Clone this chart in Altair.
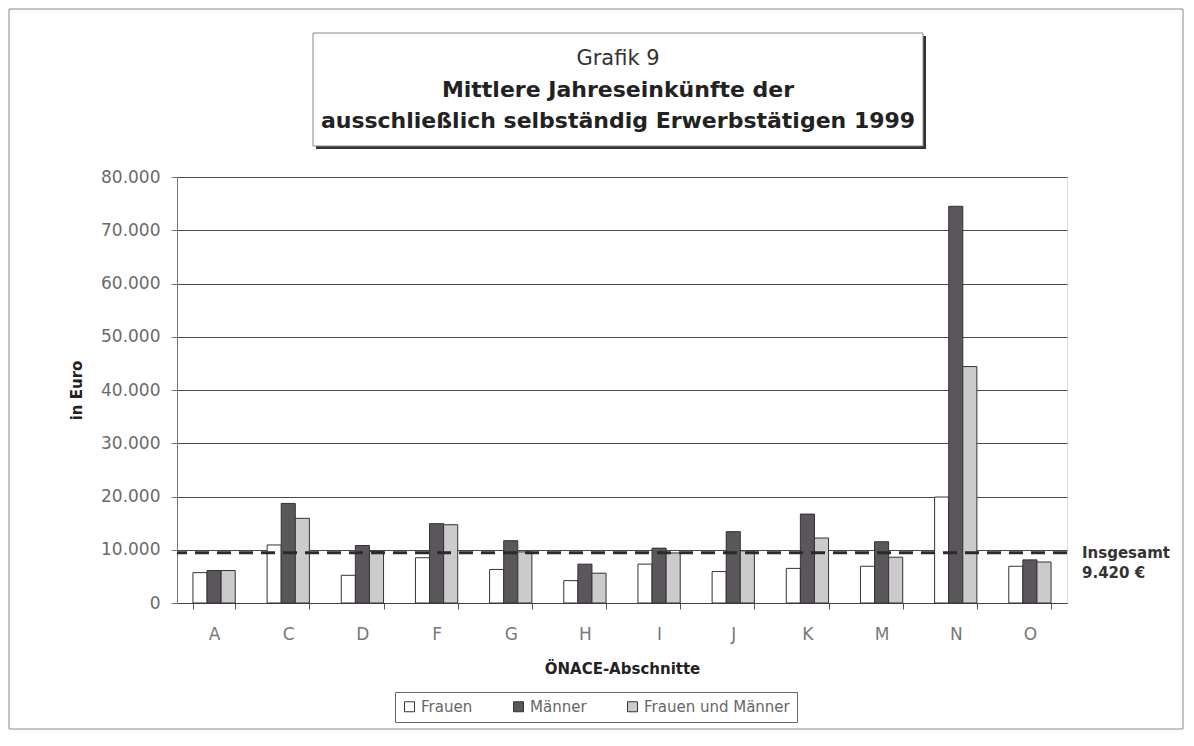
import altair as alt
import pandas as pd

# ---------------- data ----------------
categories = ["A", "C", "D", "F", "G", "H", "I", "J", "K", "M", "N", "O"]
frauen = [5700, 10900, 5200, 8500, 6300, 4200, 7300, 5900, 6500, 6900, 19900, 6900]
maenner = [6100, 18700, 10800, 14900, 11700, 7300, 10300, 13400, 16700, 11500, 74500, 8100]
beide = [6100, 15900, 9700, 14700, 9600, 5600, 9400, 9800, 12200, 8600, 44400, 7700]
series = ["Frauen", "Männer", "Frauen und Männer"]
series_colors = ["#ffffff", "#5b565b", "#cbcbcb"]
insgesamt = [9420]
insgesamt_label = ["Insgesamt", "9.420 €"]
y_ticks = [0, 10000, 20000, 30000, 40000, 50000, 60000, 70000, 80000]
title_lines = ["Grafik 9",
               "Mittlere Jahreseinkünfte der",
               "ausschließlich selbständig Erwerbstätigen 1999"]

rows = []
for i, c in enumerate(categories):
    rows.append({"Abschnitt": c, "Gruppe": series[0], "Wert": frauen[i]})
    rows.append({"Abschnitt": c, "Gruppe": series[1], "Wert": maenner[i]})
    rows.append({"Abschnitt": c, "Gruppe": series[2], "Wert": beide[i]})
df = pd.DataFrame(rows)

FONT = "DejaVu Sans"
W, H = 890, 426
one = pd.DataFrame({"a": [0]})

# ---------------- decorations (frame + title box) ----------------
outer = alt.Chart(one).mark_rect(filled=False, stroke="#8a8a8a", strokeWidth=1).encode(
    x=alt.value(-168), x2=alt.value(1006), y=alt.value(-168), y2=alt.value(552)
)
shadow = alt.Chart(one).mark_rect(fill="#333333").encode(
    x=alt.value(139), x2=alt.value(749), y=alt.value(-141), y2=alt.value(-28)
)
box = alt.Chart(one).mark_rect(fill="white", stroke="#8a8a8a", strokeWidth=1).encode(
    x=alt.value(136), x2=alt.value(746), y=alt.value(-144), y2=alt.value(-31)
)
t1 = alt.Chart(one).mark_text(text=title_lines[0], font=FONT, fontSize=21, color="#333333",
                              align="center", baseline="alphabetic").encode(
    x=alt.value(441), y=alt.value(-112))
t2 = alt.Chart(one).mark_text(text=title_lines[1], font=FONT, fontSize=22, fontWeight="bold",
                              color="#222222", align="center", baseline="alphabetic").encode(
    x=alt.value(441), y=alt.value(-80))
t3 = alt.Chart(one).mark_text(text=title_lines[2], font=FONT, fontSize=22, fontWeight="bold",
                              color="#222222", align="center", baseline="alphabetic").encode(
    x=alt.value(441), y=alt.value(-49))

# ---------------- bars ----------------
y_enc = alt.Y("Wert:Q", scale=alt.Scale(domain=[0, 80000], nice=False),
              axis=alt.Axis(values=y_ticks, title="in Euro",
                            labelExpr="replace(format(datum.value, ','), ',', '.')",
                            labelFont=FONT, labelFontSize=17, labelColor="#6a6a6a",
                            labelPadding=11, tickSize=6, tickColor="#777777",
                            domainColor="#777777", titleFont=FONT, titleFontSize=15,
                            titleFontWeight="bold", titleColor="#222222", titlePadding=16,
                            grid=True, gridColor="#4a4a4a", gridWidth=1))

bars = alt.Chart(df).mark_bar(stroke="#333333", strokeWidth=1).encode(
    x=alt.X("Abschnitt:N", sort=categories,
            scale=alt.Scale(paddingInner=0.43, paddingOuter=0.215),
            axis=alt.Axis(title="ÖNACE-Abschnitte", labelAngle=0, tickBand="extent",
                          labelFont=FONT, labelFontSize=17, labelColor="#777777",
                          labelPadding=17, tickSize=6, tickColor="#555555",
                          domainColor="#444444", titleFont=FONT, titleFontSize=15,
                          titleFontWeight="bold", titleColor="#222222", titlePadding=19,
                          grid=False)),
    xOffset=alt.XOffset("Gruppe:N", sort=series),
    y=y_enc,
    color=alt.Color("Gruppe:N", sort=series,
                    scale=alt.Scale(domain=series, range=series_colors),
                    legend=alt.Legend(title=None, orient="none", legendX=218, legendY=515,
                                      direction="horizontal", strokeColor="#666666",
                                      fillColor="white", padding=7, symbolType="square",
                                      symbolSize=100, symbolStrokeColor="#333333",
                                      symbolStrokeWidth=1, labelFont=FONT, labelFontSize=15,
                                      labelColor="#666666", columnPadding=38, labelOffset=4)),
)

rule_df = pd.DataFrame({"Wert": insgesamt})
rule = alt.Chart(rule_df).mark_rule(color="#2a2a2a", strokeWidth=3, strokeDash=[14, 8]).encode(
    y=alt.Y("Wert:Q")
)
label = alt.Chart(rule_df).mark_text(text=insgesamt_label, font=FONT, fontSize=15,
                                     fontWeight="bold", color="#333333", align="left",
                                     baseline="middle", lineHeight=20).encode(
    x=alt.value(905), y=alt.Y("Wert:Q")
)

chart = alt.layer(outer, shadow, box, t1, t2, t3, bars, rule, label).properties(
    width=W, height=H,
    autosize=alt.AutoSizeParams(type="none"),
    padding={"left": 169, "top": 169, "right": 117, "bottom": 132},
).configure_view(stroke="#b0b0b0", strokeWidth=1).configure(background="white")

chart.save("out.html", embed_options={"renderer": "svg", "actions": False})
